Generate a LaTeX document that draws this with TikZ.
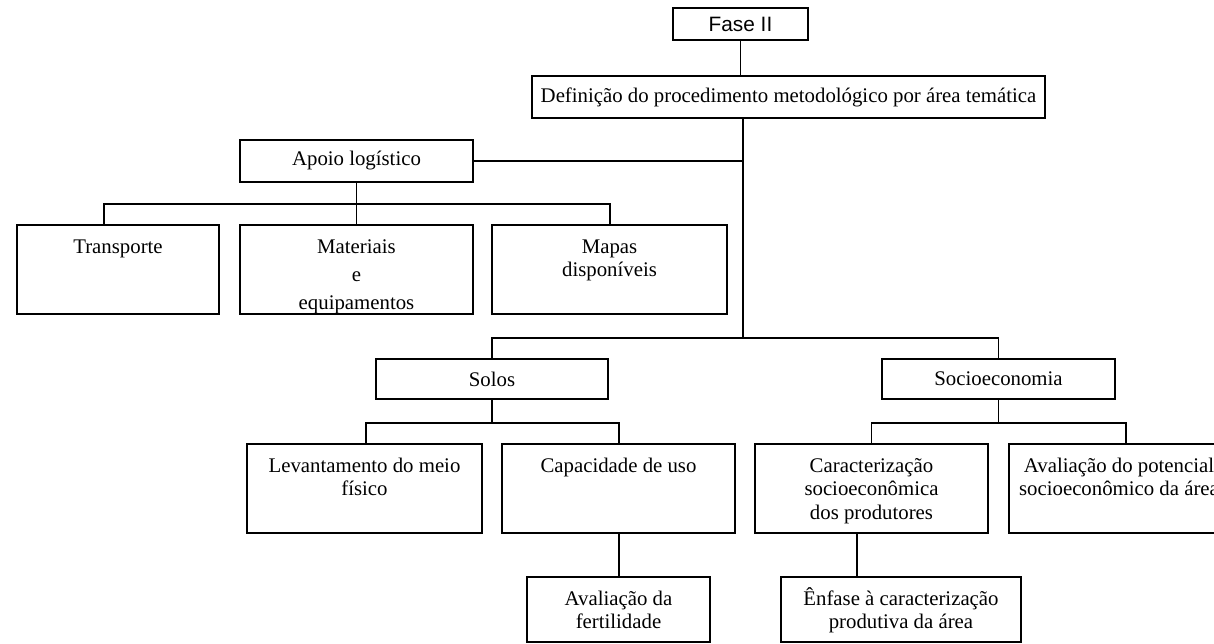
\documentclass[tikz,border=0pt]{standalone}
\usepackage{fontspec}
\setmainfont{Liberation Serif}
\newfontfamily\arialfont{Liberation Sans}
\newcommand{\tb}[3]{\begin{minipage}[c][#2][t]{#1}\centering\rule{0pt}{28pt}#3\end{minipage}}
\newcommand{\tc}[3]{\begin{minipage}[c][#2][c]{#1}\centering #3\end{minipage}}
\begin{document}
\begin{tikzpicture}[x=1pt,y=-1pt,
  bx/.style={draw, line width=1.6pt, inner sep=0pt, outer sep=0pt, font=\fontsize{20.8}{23.5}\selectfont},
  ln/.style={line width=1.6pt}]
\useasboundingbox (0,0) rectangle (1214,643);
\clip (0,0) rectangle (1214,643);
% nodes
\node[bx, font=\arialfont\fontsize{20.8}{23.5}\selectfont] (fase) at (740.5,24) {\tc{135pt}{32pt}{Fase II}};
\node[bx] (def) at (788.5,97) {\tc{513pt}{42pt}{Definição do procedimento metodológico por área temática}};
\node[bx] (apoio) at (356.5,161) {\tc{233pt}{42pt}{Apoio logístico}};
\node[bx] (transp) at (118,269.5) {\tb{202pt}{89pt}{Transporte}};
\node[bx] (mat) at (356.5,269.5) {\tb{233pt}{89pt}{Materiais\\[4.5pt] e\\[4.5pt] equipamentos}};
\node[bx] (mapas) at (609.5,269.5) {\tb{235pt}{89pt}{Mapas\\ disponíveis}};
\node[bx] (solos) at (492,379) {\tc{232pt}{40pt}{Solos}};
\node[bx] (socio) at (998.5,379) {\tc{233pt}{40pt}{Socioeconomia}};
\node[bx] (lev) at (364.5,488.5) {\tb{235pt}{89pt}{Levantamento do meio\\ físico}};
\node[bx] (cap) at (618.5,488.5) {\tb{233pt}{89pt}{Capacidade de uso}};
\node[bx] (fert) at (618.5,609.5) {\tb{183pt}{65pt}{Avaliação da\\ fertilidade}};
\node[bx] (carac) at (871.5,488.5) {\tb{233pt}{89pt}{Caracterização\\ socioeconômica\\ dos produtores}};
\node[bx] (aval) at (1119,488.5) {\tb{220pt}{89pt}{Avaliação do potencial\\ socioeconômico da área}};
\node[bx] (enf) at (901,609.5) {\tb{240pt}{65pt}{Ênfase à caracterização\\ produtiva da área}};
% junction coordinates
\coordinate (tk) at (743,338);
\coordinate (tkA) at (743,161);
\coordinate (b1) at (104,204);
\coordinate (b2) at (610,204);
\coordinate (s1) at (366,423);
\coordinate (s2) at (619,423);
\coordinate (c2) at (1126,423);
\coordinate (e1) at (857,560);
% connectors
\draw[ln] (fase.south) -- (fase.south |- def.north);
\draw[ln] (def.south -| tk) -- (tk);
\draw[ln] (apoio.east) -- (tkA);
\draw[ln] (apoio.south) -- (mat.north);
\draw[ln] (transp.north -| b1) -- (b1) -- (b2) -- (b2 |- mapas.north);
\draw[ln] (solos.north) -- (solos.north |- tk) -- (socio.north |- tk) -- (socio.north);
\draw[ln] (solos.south) -- (solos.south |- s1);
\draw[ln] (lev.north -| s1) -- (s1) -- (s2) -- (s2 |- cap.north);
\draw[ln] (socio.south) -- (socio.south |- s2);
\draw[ln] (carac.north) -- (carac.north |- s2) -- (c2) -- (aval.north -| c2);
\draw[ln] (cap.south -| s2) -- (fert.north -| s2);
\draw[ln] (carac.south -| e1) -- (enf.north -| e1);
\end{tikzpicture}
\end{document}
